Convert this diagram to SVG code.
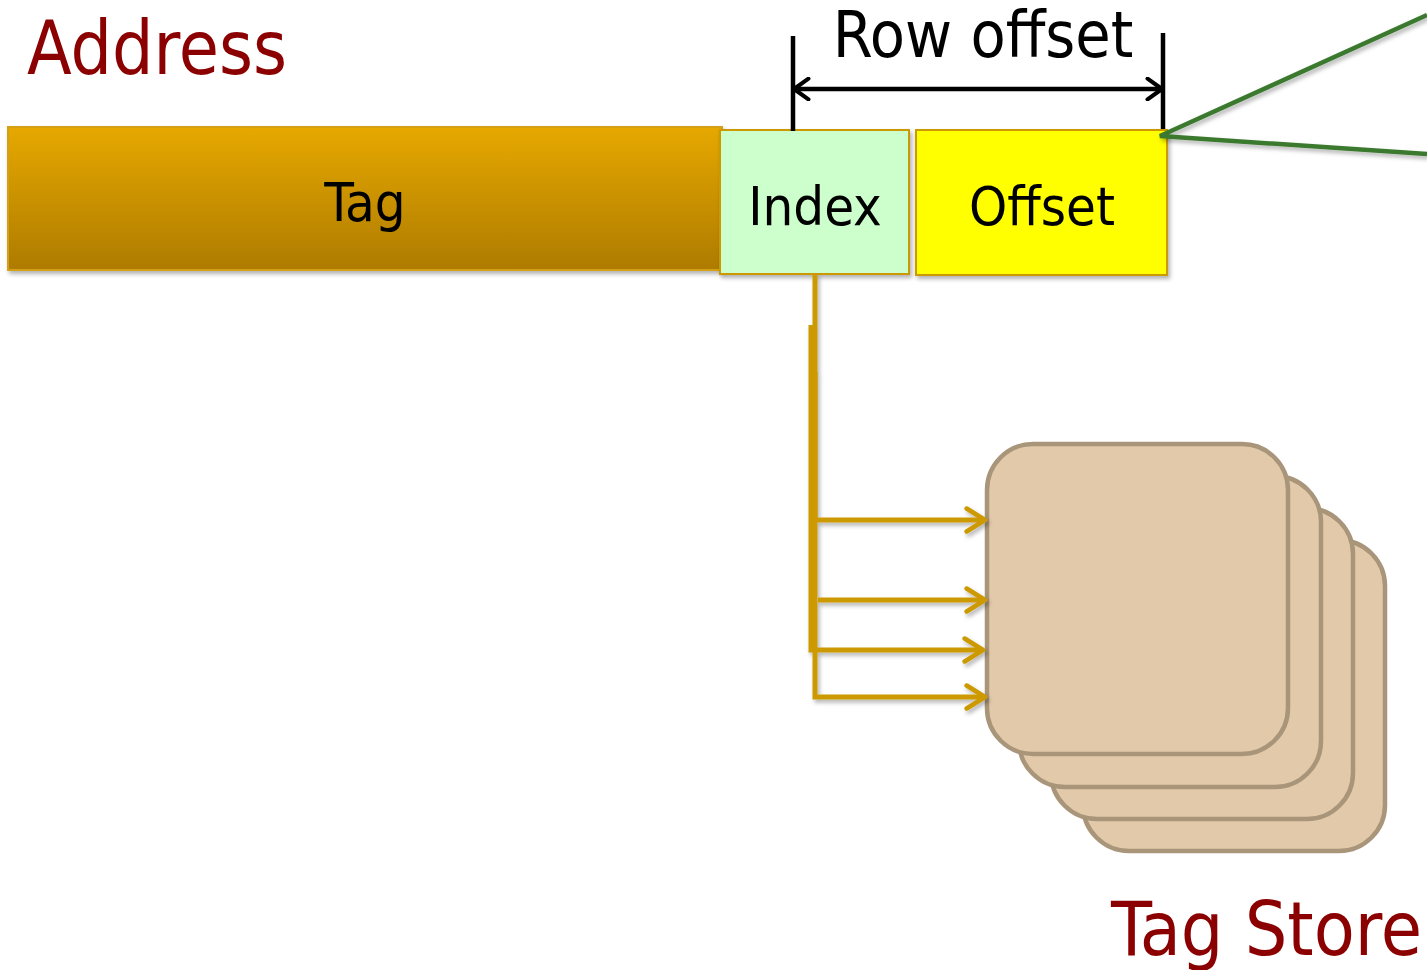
<svg xmlns="http://www.w3.org/2000/svg" width="1427" height="970" viewBox="0 0 1427 970">
  <style>
    text { font-family: "DejaVu Sans Condensed", "DejaVu Sans", sans-serif; }
    .title { fill: #8B0000; font-size: 74px; }
    .field { fill: #000; font-size: 54px; text-anchor: middle; }
    .dim { stroke: #000; stroke-width: 4.5; fill: none; }
    .bus { stroke: #CC9900; stroke-width: 5; fill: none; }
    .bank { fill: #E2C9A9; stroke: #A8957A; stroke-width: 4.5; }
    .zoom { stroke: #3B7A2E; stroke-width: 4.5; fill: none; }
  </style>
  <defs>
    <linearGradient id="tagFill" x1="0" y1="0" x2="0" y2="1">
      <stop offset="0" stop-color="#E6A800"/>
      <stop offset="1" stop-color="#AE7B00"/>
    </linearGradient>
    <filter id="shadow" x="-5%" y="-10%" width="110%" height="130%">
      <feDropShadow dx="2" dy="3" stdDeviation="2" flood-color="#000" flood-opacity="0.3"/>
    </filter>
    <marker id="busArrow" viewBox="0 0 12 12" refX="10" refY="6" markerWidth="5.5" markerHeight="5.5" markerUnits="strokeWidth" orient="auto">
      <path d="M2,1 L10,6 L2,11" fill="none" stroke="#CC9900" stroke-width="2" stroke-linecap="round" stroke-linejoin="round"/>
    </marker>
    <marker id="dimArrow" viewBox="0 0 12 12" refX="10" refY="6" markerWidth="5.5" markerHeight="5.5" markerUnits="strokeWidth" orient="auto-start-reverse">
      <path d="M3,1 L10,6 L3,11" fill="none" stroke="#000" stroke-width="2" stroke-linecap="round" stroke-linejoin="round"/>
    </marker>
  </defs>

  <rect width="1427" height="970" fill="#fff"/>

  <text class="title" x="27" y="74" textLength="260" lengthAdjust="spacingAndGlyphs">Address</text>

  <!-- address fields -->
  <g id="tag-field">
    <rect x="8" y="127" width="714" height="143" fill="url(#tagFill)" stroke="#D4A017" stroke-width="2" filter="url(#shadow)"/>
    <text class="field" x="365" y="221">Tag</text>
  </g>
  <g id="index-field">
    <rect x="720" y="130" width="189" height="144" fill="#CCFFCC" stroke="#CC9900" stroke-width="2" filter="url(#shadow)"/>
    <text class="field" x="815" y="225">Index</text>
  </g>
  <g id="offset-field">
    <rect x="916" y="130" width="251" height="145" fill="#FFFF00" stroke="#CC9900" stroke-width="2" filter="url(#shadow)"/>
    <text class="field" x="1042" y="225">Offset</text>
  </g>

  <!-- row offset dimension -->
  <g id="row-offset">
    <path class="dim" d="M793,36 V131 M1163,33 V129"/>
    <path class="dim" d="M794,89 H1162" marker-start="url(#dimArrow)" marker-end="url(#dimArrow)"/>
    <text x="983" y="57" font-size="64" text-anchor="middle" fill="#000">Row offset</text>
  </g>

  <!-- tag store banks -->
  <g id="tag-store">
    <rect class="bank" x="1083" y="540" width="302" height="311" rx="46"/>
    <rect class="bank" x="1051" y="508" width="302" height="311" rx="46"/>
    <rect class="bank" x="1019" y="476" width="302" height="311" rx="46"/>
    <rect class="bank" x="987" y="444" width="301" height="310" rx="46"/>
    <text class="title" x="1111" y="955" textLength="311" lengthAdjust="spacingAndGlyphs">Tag Store</text>
  </g>

  <!-- connectors -->
  <g id="connectors" filter="url(#shadow)">
    <path class="bus" d="M815,274 V520 H985" marker-end="url(#busArrow)"/>
    <path class="bus" d="M811,325 V650 H983" marker-end="url(#busArrow)"/>
    <path class="bus" d="M815,372 V697 H985" marker-end="url(#busArrow)"/>
    <path class="bus" d="M818,600 H985" marker-end="url(#busArrow)"/>
    <path class="zoom" d="M1427,15 L1160,136 L1427,154"/>
  </g>
</svg>
